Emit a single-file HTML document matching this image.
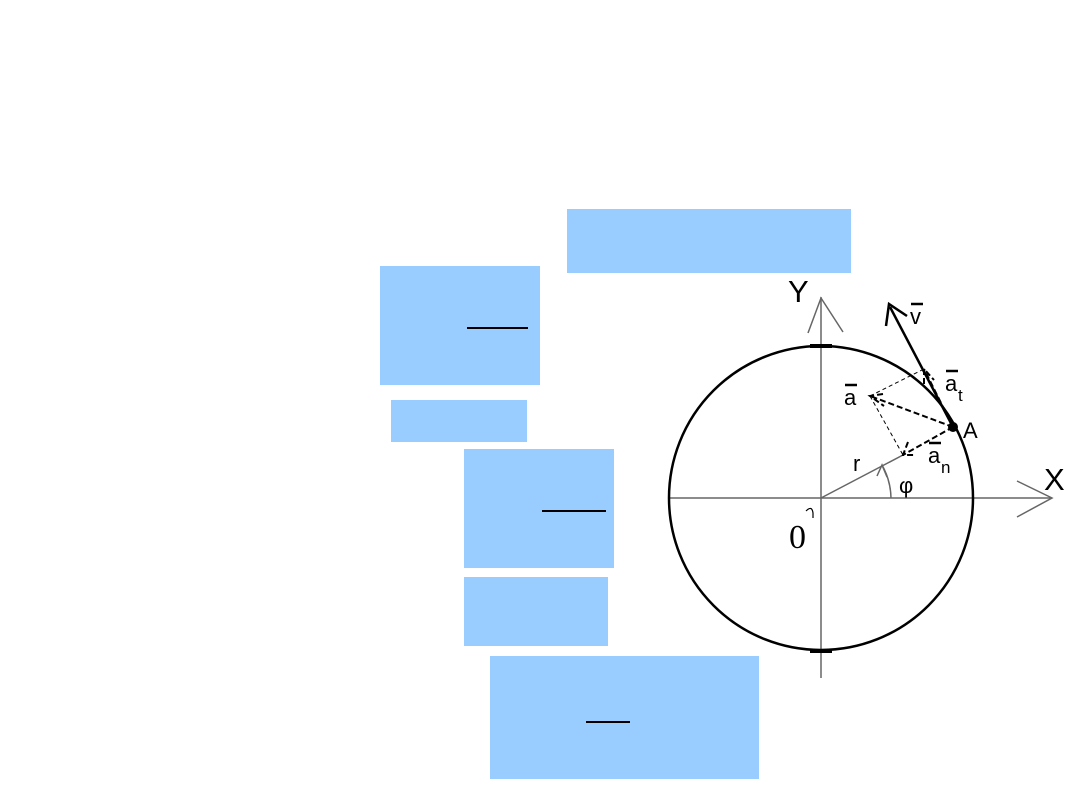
<!DOCTYPE html>
<html><head><style>
body{margin:0;width:1080px;height:810px;background:#fff;position:relative;overflow:hidden;font-family:"Liberation Sans",sans-serif}
.b{position:absolute;background:#99ccff}
.l{position:absolute;height:2px;background:#000}
</style></head><body>
<div class="b" style="left:567px;top:209px;width:284px;height:64px"></div>
<div class="b" style="left:380px;top:266px;width:160px;height:119px"></div>
<div class="l" style="left:467px;top:327px;width:61px"></div>
<div class="b" style="left:391px;top:400px;width:136px;height:42px"></div>
<div class="b" style="left:464px;top:449px;width:150px;height:119px"></div>
<div class="l" style="left:542px;top:510px;width:64px"></div>
<div class="b" style="left:464px;top:577px;width:144px;height:69px"></div>
<div class="b" style="left:490px;top:656px;width:269px;height:123px"></div>
<div class="l" style="left:586px;top:721px;width:44px"></div>
<svg style="position:absolute;left:0;top:0" width="1080" height="810">
<g stroke="#666" stroke-width="1.5" fill="none">
<line x1="821" y1="297" x2="821" y2="678"/>
<line x1="668" y1="498" x2="1052" y2="498"/>
<polyline points="808,333 821,298 843,332"/>
<polyline points="1017,481 1052,498 1017,517"/>
<line x1="821" y1="498" x2="903" y2="455"/>
<path d="M891,498 A70,70 0 0 0 882,465"/>
<polyline points="877,476 882,465 887,477" />
</g>
<circle cx="821" cy="498" r="152" stroke="#000" stroke-width="2.5" fill="none"/>
<line x1="810" y1="346" x2="832" y2="346" stroke="#000" stroke-width="4"/>
<line x1="810" y1="651" x2="832" y2="651" stroke="#000" stroke-width="4"/>
<line x1="953" y1="427" x2="890" y2="307" stroke="#000" stroke-width="2.5"/>
<polyline points="886,326 889,304 907,316" stroke="#000" stroke-width="2.5" fill="none"/>
<g stroke="#000" stroke-width="2" stroke-dasharray="6,3" fill="none">
<line x1="953" y1="427" x2="870" y2="396"/>
<line x1="953" y1="427" x2="903" y2="455"/>
<line x1="953" y1="427" x2="924" y2="369"/>
<polyline points="883,394 870,396 884,406"/>
<polyline points="908,442 903,455 916,455"/>
<polyline points="924,384 924,369 934,380"/>
</g>
<g stroke="#000" stroke-width="1" stroke-dasharray="4,3" fill="none">
<line x1="870" y1="396" x2="924" y2="369"/>
<line x1="870" y1="396" x2="903" y2="455"/>
</g>
<circle cx="953" cy="427" r="5" fill="#000"/>
<g font-family="Liberation Sans,sans-serif" fill="#000">
<text x="788" y="302" font-size="31">Y</text>
<text x="1044" y="490" font-size="31">X</text>
<text x="963" y="438" font-size="22">A</text>
<text x="910" y="324" font-size="22">v</text>
<line x1="911" y1="304" x2="923" y2="304" stroke="#000" stroke-width="2.5"/>
<text x="844" y="405" font-size="22">a</text>
<line x1="845" y1="385" x2="857" y2="385" stroke="#000" stroke-width="2.5"/>
<text x="945" y="391" font-size="22">a</text>
<text x="958" y="401" font-size="17">t</text>
<line x1="946" y1="371" x2="958" y2="371" stroke="#000" stroke-width="2.5"/>
<text x="928" y="463" font-size="22">a</text>
<text x="941" y="473" font-size="17">n</text>
<line x1="929" y1="443" x2="941" y2="443" stroke="#000" stroke-width="2.5"/>
<text x="853" y="471" font-size="22">r</text>
<text x="899" y="493" font-size="22">φ</text>
<text x="789" y="548" font-size="34" font-family="Liberation Serif,serif">0</text>
<path d="M806,511 Q812,505 813,513 L813,518" stroke="#000" stroke-width="1.2" fill="none"/>
</g>
</svg>
</body></html>
